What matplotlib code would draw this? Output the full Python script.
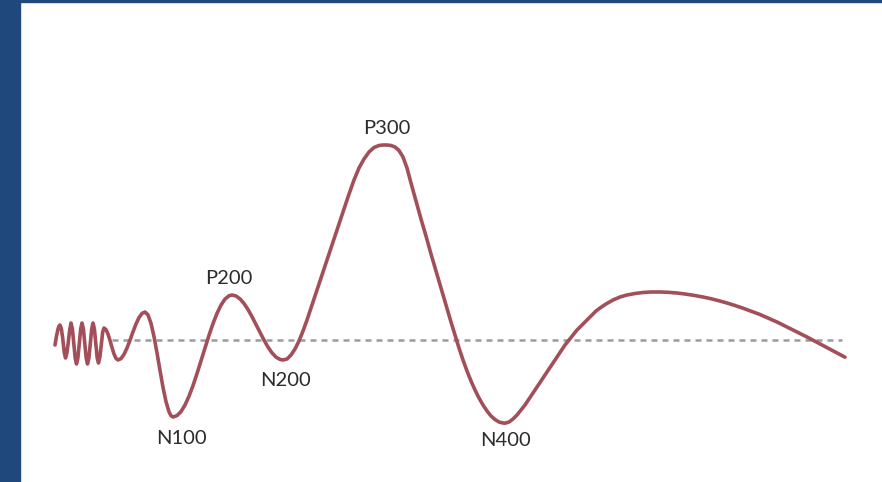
import matplotlib
matplotlib.use("Agg")
import matplotlib.pyplot as plt
from matplotlib.patches import Rectangle

# waveform: x position, amplitude (up = positive)
wave_x = [55, 56.5, 58, 59, 60, 61.4, 62.8, 64.2, 65.5, 66.9, 68.3, 69.7, 71, 72.4,
          73.8, 75.2, 76.5, 77.9, 79.3, 80.7, 82, 83.4, 84.8, 86.2, 87.5, 88.9, 90.3,
          91.7, 93, 94.4, 95.8, 97.2, 98.5, 99.9, 101.3, 102.7, 104,
          106, 108, 110, 112, 114, 116, 118,
          121, 124, 127, 130, 133, 136, 139, 142, 145,
          148, 151, 154, 157, 160, 163, 166, 169, 171, 173,
          177, 181, 185, 189, 193, 197, 201, 205, 209, 213, 217, 221, 225, 229, 232,
          236, 240, 244, 248, 252, 256, 260, 264, 268, 272, 276, 280, 283,
          287, 291, 295, 299, 303, 307, 312, 318, 324, 330, 336, 342, 348, 354,
          359, 364, 369, 374, 379, 383, 387,
          391, 395, 399, 403, 407, 411, 416, 421, 426, 431, 436, 441, 446, 451, 455,
          459, 463, 467, 471, 475, 479, 483, 487, 491, 495, 499, 503, 505,
          509, 513, 517, 521, 525, 529, 533, 537, 541, 545, 549, 553, 557, 561, 565, 569,
          573, 577, 581, 586, 591, 596, 600, 606, 613, 620, 627, 635, 643, 651, 660,
          668, 677, 685, 693, 702, 710, 718, 727, 735, 743, 751, 760, 768, 777, 785,
          793, 800, 807, 814, 820, 827, 833, 839, 845]
wave_y = [-5, 4, 11, 14, 15, 11, 1, -12, -18, -13, -2, 10, 17, 11,
          -4, -18, -24, -18, -4, 11, 17, 11, -4, -18, -24, -18, -4,
          11, 17, 11, -4, -18, -23, -17, -4, 8, 12,
          10.4, 6, -0.4, -7.6, -14, -18.4, -20,
          -18.6, -14.4, -8, -0.2, 8.2, 16, 22.4, 26.6, 28,
          25.1, 16.6, 3.4, -12.8, -30.4, -47.3, -61.6, -71.8, -75.7, -77,
          -75.6, -71.6, -65, -56.2, -45.6, -33.6, -20.9, -7.9, 4.7, 16.4, 26.6, 34.9, 40.9, 44.2, 45,
          44, 41.1, 36.5, 30.5, 23.3, 15.5, 7.5, -0.1, -7.1, -12.9, -17.1, -19.4, -20,
          -19, -15, -9, -1, 9, 20, 35, 53, 71, 89, 107, 125, 143, 160,
          172, 181, 188, 192.5, 194.5, 195, 195,
          194.5, 193, 189.5, 183, 172, 157, 139, 121, 104, 86, 69, 52, 35, 18, 5,
          -8, -20, -31, -41, -50, -58, -65, -71, -76, -79.5, -82, -83, -83.2,
          -82, -79, -75, -70, -65, -59, -53, -47, -41, -35, -29, -23, -17, -11, -5, 0,
          5, 10, 14, 19, 24, 29, 32, 36, 40, 43, 45, 46.5, 47.5, 48, 48,
          47.7, 47, 46, 44.8, 43.2, 41.5, 39.5, 37, 34.5, 31.8, 28.8, 25.5, 22, 18, 14,
          10, 6.5, 3, -0.7, -3.8, -7.5, -10.8, -14, -17.2]

baseline_x = [112, 842]
baseline_y = [0, 0]

labels = ["P300", "P200", "N100", "N200", "N400"]
label_x = [387, 229, 181, 286, 505]
label_y = [212, 61, -98, -41, -101]

fig = plt.figure(figsize=(8.82, 4.82), dpi=100)
ax = fig.add_axes([0, 0, 1, 1])
ax.set_xlim(0, 882)
ax.set_ylim(-142, 340)
ax.axis("off")

# blue frame on the left and top
fig.patches.append(Rectangle((0, 0), 20 / 882, 1, transform=fig.transFigure,
                             color="#1f497d", zorder=0))
fig.patches.append(Rectangle((0, 1 - 2 / 482), 1, 2 / 482, transform=fig.transFigure,
                             color="#1f497d", zorder=0))

ax.plot(baseline_x, baseline_y, color="#9c9c9c", lw=1.8, ls=(0, (2.4, 2.0)), zorder=1)
ax.plot(wave_x, wave_y, color="#a24f5a", lw=2.6, solid_capstyle="round",
        solid_joinstyle="round", zorder=2)

for name, tx, ty in zip(labels, label_x, label_y):
    ax.text(tx, ty, name, ha="center", va="center", fontsize=14.5, color="#2c2c2c",
            family=["Lato", "DejaVu Sans"])

fig.savefig("out.png", dpi=100)
